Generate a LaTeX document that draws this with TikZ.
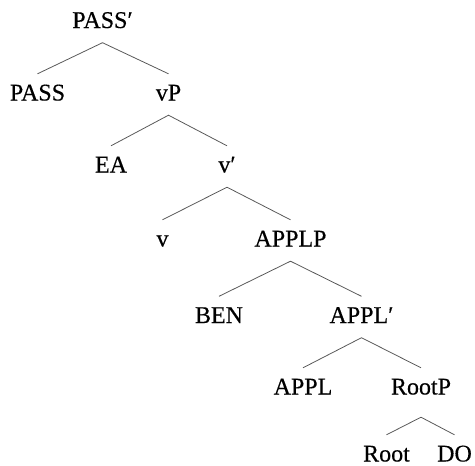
\documentclass[tikz,border=0pt]{standalone}
\usepackage{fontspec}
\setmainfont{Liberation Serif}
% a slightly heavier cut of the serif for the tree labels
\newfontfamily\treefont[FakeBold=0.35]{Liberation Serif}
\begin{document}
\begin{tikzpicture}[x=1pt,y=1pt,
  lbl/.style={anchor=base, font=\treefont\fontsize{24}{28}\selectfont, text height=12pt, text depth=0pt, inner xsep=0pt, inner ysep=14.5pt},
  branch/.style={draw=black!65, line width=0.8pt}]
\useasboundingbox (0,0) rectangle (475,-466);
% labels, placed on their baselines
\node[lbl] (passbar) at (102.5,-28)    {PASS′};
\node[lbl] (pass)    at (37.5,-100.5)  {PASS};
\node[lbl] (vp)      at (168.5,-100.5) {vP};
\node[lbl] (ea)      at (111,-172.5)   {EA};
\node[lbl] (vbar)    at (227,-172.5)   {v′};
\node[lbl] (v)       at (162.5,-246.5) {v};
\node[lbl] (applp)   at (290.5,-246.5) {APPLP};
\node[lbl] (ben)     at (219,-323)     {BEN};
\node[lbl] (applbar) at (361.5,-323)   {APPL′};
\node[lbl] (appl)    at (303,-394.5)   {APPL};
\node[lbl] (rootp)   at (421,-394.5)   {RootP};
\node[lbl] (root)    at (386.5,-461.5) {Root};
\node[lbl] (do)      at (454.5,-461.5) {DO};
% branches
\draw[branch] (pass.north) -- (passbar.south) -- (vp.north);
\draw[branch] (ea.north) -- (vp.south) -- (vbar.north);
\draw[branch] (v.north) -- (vbar.south) -- (applp.north);
\draw[branch] (ben.north) -- (applp.south) -- (applbar.north);
\draw[branch] (appl.north) -- (applbar.south) -- (rootp.north);
\draw[branch] (root.north) -- ([yshift=-8pt]rootp.south) -- (do.north);
\end{tikzpicture}
\end{document}
